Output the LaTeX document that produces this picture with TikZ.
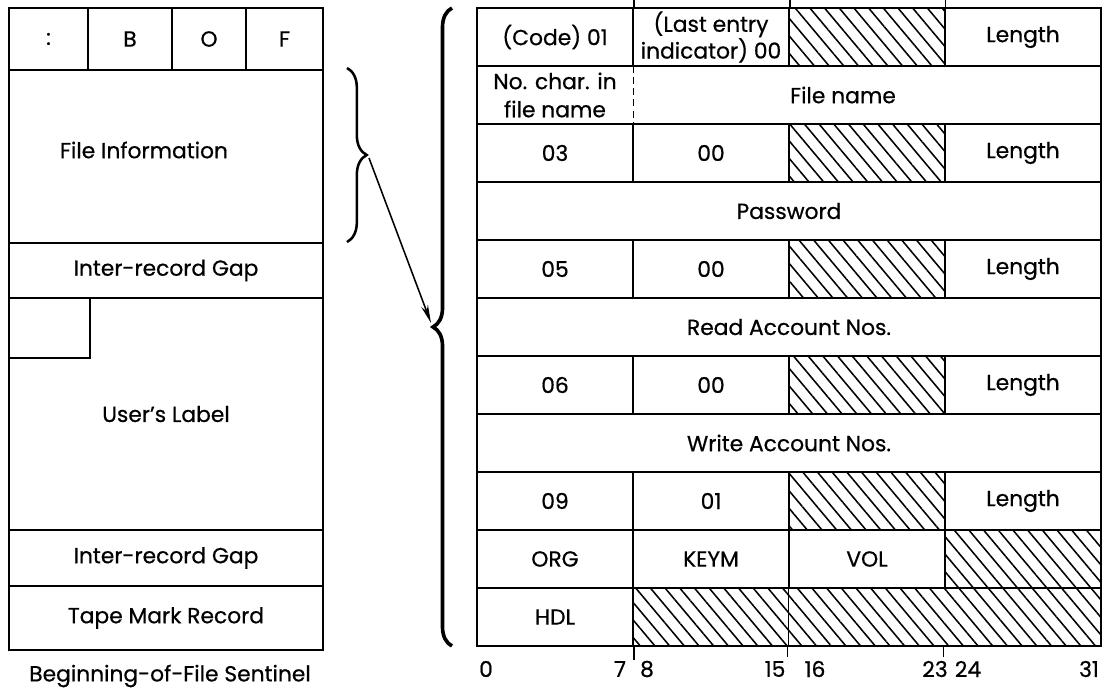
\documentclass[tikz,border=0pt]{standalone}
\usepackage{fontspec}
\setmainfont{Poppins}[FakeBold=0.6]
\usetikzlibrary{patterns.meta,decorations.pathreplacing,arrows.meta}

\begin{document}
\begin{tikzpicture}[x=0.025cm,y=-0.025cm,
  field node/.style={draw,line width=1.5pt,inner sep=0pt,minimum width=3.9cm,minimum height=1.45cm,align=center,font=\fontsize{15.5}{19}\selectfont},
  hatch node/.style={field node,pattern={Lines[angle=-50,distance=8pt,line width=1.1pt]}},
  plain node/.style={inner sep=0pt,minimum width=3.9cm,minimum height=1.45cm,align=center,font=\fontsize{15.5}{20}\selectfont},
  box node/.style={draw,line width=1.5pt,inner sep=0pt,minimum width=7.85cm,align=center,font=\fontsize{15.5}{19}\selectfont},
  bit node/.style={inner sep=0pt,font=\fontsize{15.5}{17}\selectfont}]

\useasboundingbox (0,0) rectangle (1103,688);

% left: sentinel
\node[box node,minimum width=1.975cm,minimum height=1.55cm] (colon) at (48.5,39) {:};
\node[box node,minimum width=2.1cm,minimum height=1.55cm] (bchar) at (130,39) {B};
\node[box node,minimum width=1.85cm,minimum height=1.55cm] (ochar) at (209,39) {O};
\node[box node,minimum width=1.925cm,minimum height=1.55cm] (fchar) at (284.5,39) {F};
\node[box node,minimum height=4.325cm] (finfo) at (166,156.5) {};
\node[plain node] (finfotext) at (144,150) {File Information};
\node[box node,minimum height=1.375cm] (gapa) at (166,270.5) {Inter-record Gap};
\node[box node,minimum height=5.8cm] (ulabel) at (166,414) {User's Label};
\node[box node,minimum width=2.025cm,minimum height=1.5cm,anchor=north west] (ulbox) at (ulabel.north west) {};
\node[box node,minimum height=1.4cm] (gapb) at (166,558) {Inter-record Gap};
\node[box node,minimum height=1.6cm] (tape) at (166,618) {Tape Mark Record};
\node[bit node] (caption) at (170,676) {Beginning-of-File Sentinel};

% braces and arrow
\draw[line width=1.8pt,decorate,decoration={brace,amplitude=14pt}] (347,68) -- (347,242);
\draw[line width=2.6pt,decorate,decoration={brace,amplitude=13.5pt}] (452,646) -- (452,8);
\coordinate (small tip) at (369,158);
\coordinate (big tip) at (431,323);
\draw[line width=1.1pt,-{Stealth[length=13pt,width=5pt]}] (small tip) -- (big tip);

% right: label entries
\node[field node] (code) at (555,37) {(Code) 01};
\node[field node] (last) at (711,37) {(Last entry\\indicator) 00};
\node[hatch node] (ha) at (867,37) {};
\node[field node] (lena) at (1023,37) {Length};

\node[field node,minimum width=15.6cm] (fnrow) at (789,95) {};
\node[plain node] (nchar) at (555,95) {No. char. in\\file name};
\node[plain node] (fname) at (843,95) {File name};
\draw[line width=0.9pt,dash pattern=on 5pt off 3pt] (nchar.north east) -- (nchar.south east);

\node[field node] (c03) at (555,153) {03};
\node[field node] (c00a) at (711,153) {00};
\node[hatch node] (hb) at (867,153) {};
\node[field node] (lenb) at (1023,153) {Length};

\node[field node,minimum width=15.6cm] (pword) at (789,211) {Password};

\node[field node] (c05) at (555,269) {05};
\node[field node] (c00b) at (711,269) {00};
\node[hatch node] (hc) at (867,269) {};
\node[field node] (lenc) at (1023,269) {Length};

\node[field node,minimum width=15.6cm] (racct) at (789,327) {Read Account Nos.};

\node[field node] (c06) at (555,385) {06};
\node[field node] (c00c) at (711,385) {00};
\node[hatch node] (hd) at (867,385) {};
\node[field node] (lend) at (1023,385) {Length};

\node[field node,minimum width=15.6cm] (wacct) at (789,443) {Write Account Nos.};

\node[field node] (c09) at (555,501) {09};
\node[field node] (c01) at (711,501) {01};
\node[hatch node] (he) at (867,501) {};
\node[field node] (lene) at (1023,501) {Length};

\node[field node] (org) at (555,559) {ORG};
\node[field node] (keym) at (711,559) {KEYM};
\node[field node] (vol) at (867,559) {VOL};
\node[hatch node] (hf) at (1023,559) {};

\node[field node] (hdl) at (555,617) {HDL};
\node[hatch node,minimum width=11.7cm] (hg) at (867,617) {};
\draw[line width=0.6pt] (vol.south west) -- (vol.south west |- hg.south);

% ticks and bit numbers
\draw[line width=0.9pt] (code.north east) -- ++(0,-8);
\draw[line width=0.9pt] (last.north east) -- ++(0,-8);
\draw[line width=0.9pt] (ha.north east) -- ++(0,-8);
\draw[line width=0.9pt] (hdl.south east) -- ++(0,13);
\draw[line width=0.7pt] (vol.south west |- hg.south) -- ++(0,10);
\draw[line width=0.7pt] (hf.south west |- hg.south) -- ++(0,10);

\node[bit node] (b0) at (486,669) {0};
\node[bit node] (b7) at (620,669) {7};
\node[bit node] (b8) at (647,669) {8};
\node[bit node] (b15) at (775,669) {15};
\node[bit node] (b16) at (815,669) {16};
\node[bit node] (b23) at (935,669) {23};
\node[bit node] (b24) at (968,669) {24};
\node[bit node] (b31) at (1089,669) {31};

\end{tikzpicture}
\end{document}
